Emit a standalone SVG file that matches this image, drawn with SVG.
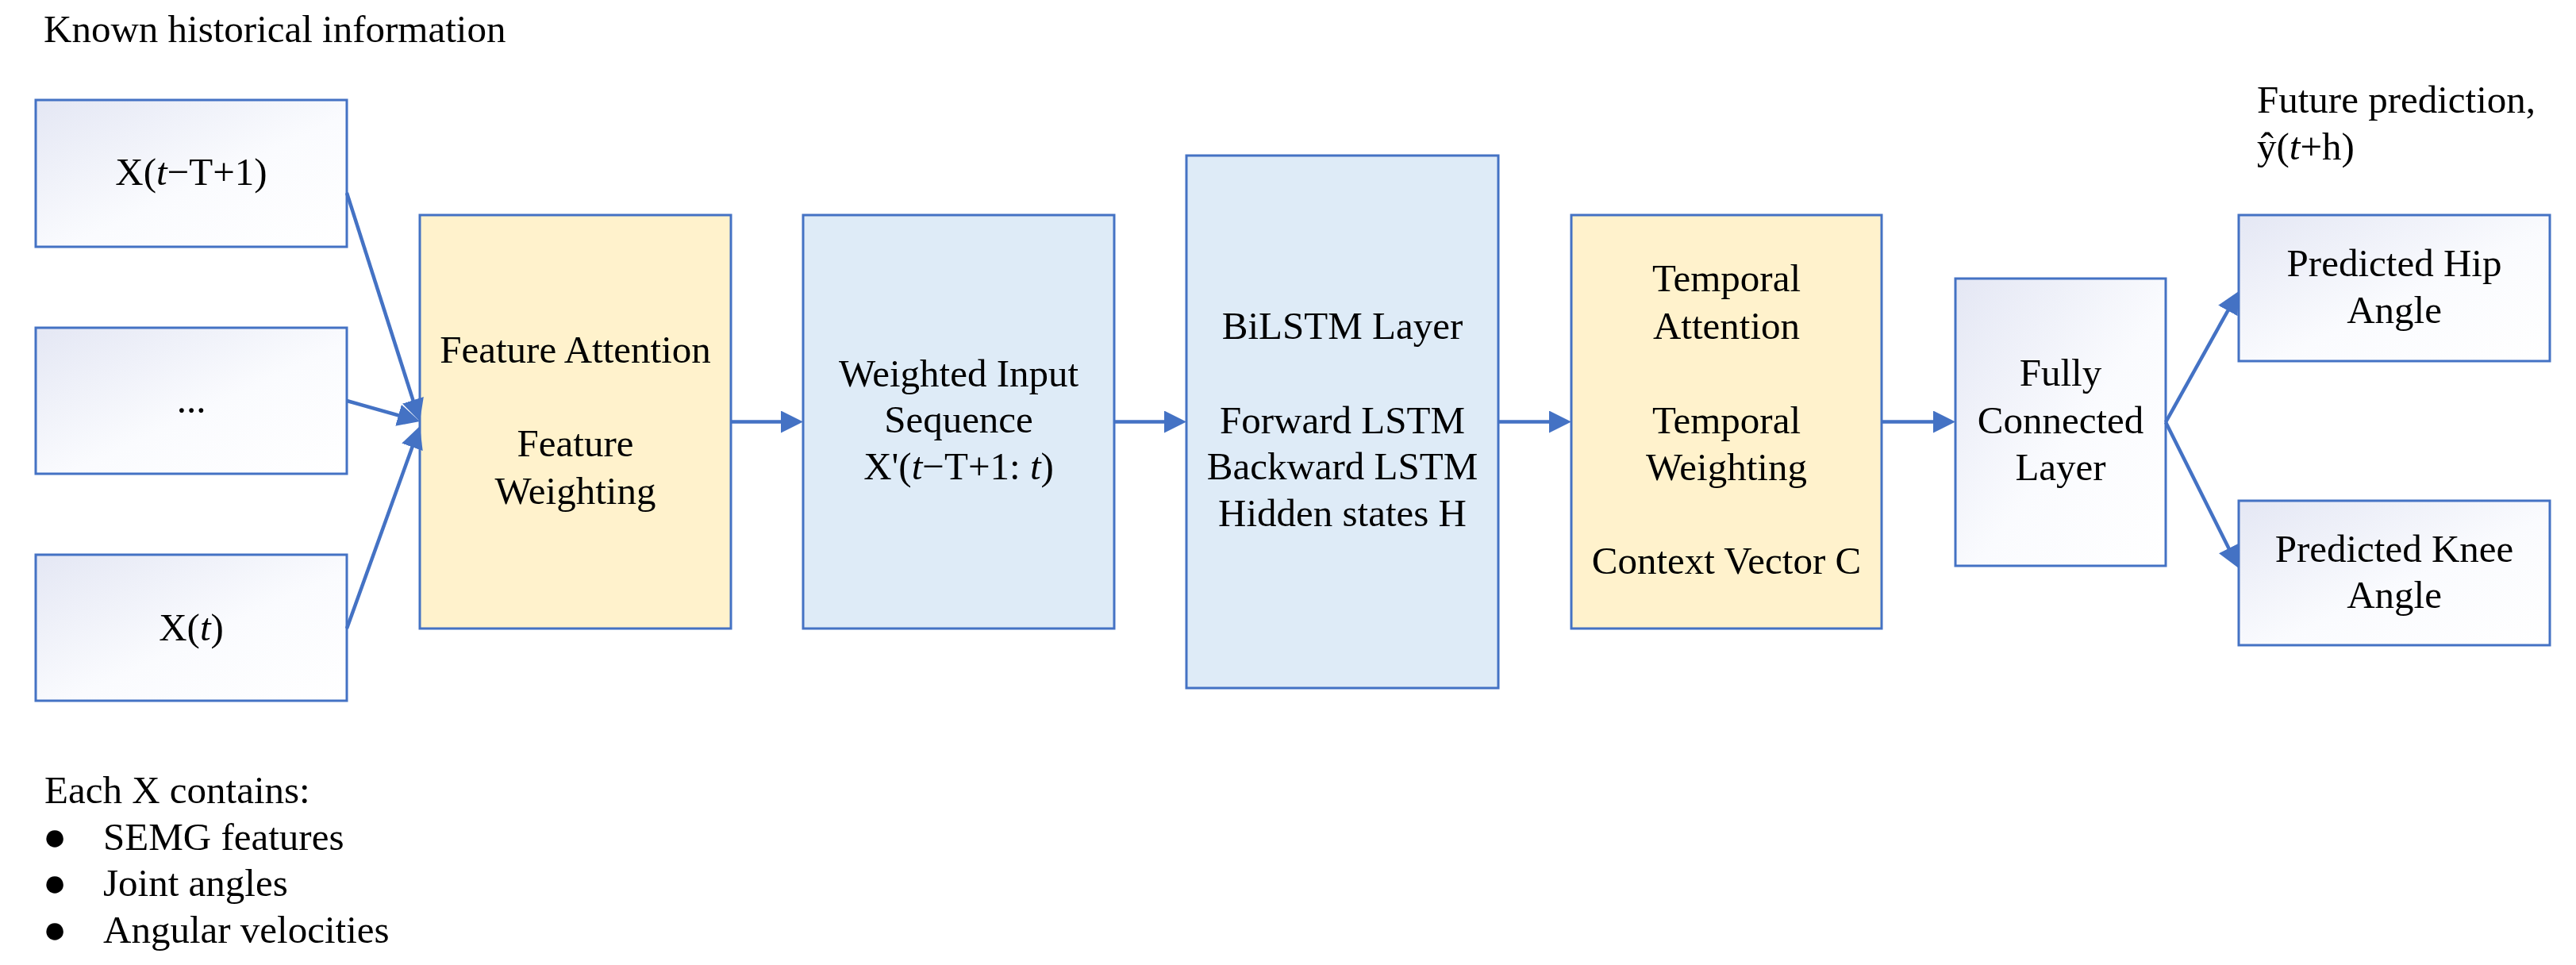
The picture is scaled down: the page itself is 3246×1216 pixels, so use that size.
<svg xmlns="http://www.w3.org/2000/svg" width="3246" height="1216" viewBox="0 0 3246 1216">
<style>
text{font-family:"Liberation Serif","Times New Roman",serif;font-size:49px;fill:#000}
.c{text-anchor:middle}
.bul{font-size:50px}
.box{stroke:#4472C4;stroke-width:3}
.grad{fill:url(#g)}
.yel{fill:#FFF2CC}
.blu{fill:#DEEBF7}
.conn line{stroke:#4472C4;stroke-width:4.5;fill:none}
</style>
<defs>
<linearGradient id="g" x1="0" y1="0" x2="1" y2="1">
<stop offset="0" stop-color="#E4E7F4"/>
<stop offset="0.55" stop-color="#FAFBFE"/>
<stop offset="1" stop-color="#FFFFFF"/>
</linearGradient>
<marker id="arr" markerUnits="userSpaceOnUse" markerWidth="28" markerHeight="28" viewBox="0 0 28 28" refX="16" refY="14" orient="auto">
<path d="M0,0 L28,14 L0,28 z" fill="#4472C4"/>
</marker>
</defs>
<rect width="3246" height="1216" fill="#fff"/>
<text x="55" y="53">Known historical information</text>
<g id="x1"><rect class="box grad" x="45" y="126" width="392" height="185"/><text class="c" x="241" y="233">X(<tspan font-style="italic">t</tspan>−T+1)</text></g>
<g id="xdots"><rect class="box grad" x="45" y="413" width="392" height="184"/><text class="c" x="241" y="520">...</text></g>
<g id="xt"><rect class="box grad" x="45" y="699" width="392" height="184"/><text class="c" x="241" y="807">X(<tspan font-style="italic">t</tspan>)</text></g>
<g id="feature"><rect class="box yel" x="529" y="271" width="392" height="521"/><text class="c" x="725" y="457">Feature Attention</text><text class="c" x="725" y="575">Feature</text><text class="c" x="725" y="635">Weighting</text></g>
<g id="weighted"><rect class="box blu" x="1012" y="271" width="392" height="521"/><text class="c" x="1208" y="487">Weighted Input</text><text class="c" x="1208" y="545">Sequence</text><text class="c" x="1208" y="604">X'(<tspan font-style="italic">t</tspan>−T+1: <tspan font-style="italic">t</tspan>)</text></g>
<g id="bilstm"><rect class="box blu" x="1495" y="196" width="393" height="671"/><text class="c" x="1691.5" y="427">BiLSTM Layer</text><text class="c" x="1691.5" y="546">Forward LSTM</text><text class="c" x="1691.5" y="604">Backward LSTM</text><text class="c" x="1691.5" y="663">Hidden states H</text></g>
<g id="temporal"><rect class="box yel" x="1980" y="271" width="391" height="521"/><text class="c" x="2175.5" y="367">Temporal</text><text class="c" x="2175.5" y="427">Attention</text><text class="c" x="2175.5" y="546">Temporal</text><text class="c" x="2175.5" y="605">Weighting</text><text class="c" x="2175.5" y="723">Context Vector C</text></g>
<g id="fc"><rect class="box grad" x="2464" y="351" width="265" height="362"/><text class="c" x="2596.5" y="486">Fully</text><text class="c" x="2596.5" y="546">Connected</text><text class="c" x="2596.5" y="605">Layer</text></g>
<text x="2844" y="142">Future prediction,</text>
<text x="2844" y="201">ŷ(<tspan font-style="italic">t</tspan>+h)</text>
<g id="hip"><rect class="box grad" x="2821" y="271" width="392" height="184"/><text class="c" x="3017" y="348">Predicted Hip</text><text class="c" x="3017" y="407">Angle</text></g>
<g id="knee"><rect class="box grad" x="2821" y="631" width="392" height="182"/><text class="c" x="3017" y="708">Predicted Knee</text><text class="c" x="3017" y="766">Angle</text></g>
<g id="connectors" class="conn">
<line x1="437" y1="243" x2="525.35" y2="519.57" marker-end="url(#arr)"/>
<line x1="437" y1="505" x2="517.45" y2="527.74" marker-end="url(#arr)"/>
<line x1="437" y1="792" x2="524.93" y2="548.29" marker-end="url(#arr)"/>
<line x1="921" y1="531.5" x2="1000" y2="531.5" marker-end="url(#arr)"/>
<line x1="1404" y1="531.5" x2="1483" y2="531.5" marker-end="url(#arr)"/>
<line x1="1888" y1="531.5" x2="1968" y2="531.5" marker-end="url(#arr)"/>
<line x1="2371" y1="531.5" x2="2452" y2="531.5" marker-end="url(#arr)"/>
<line x1="2729" y1="532" x2="2815.16" y2="377.48" marker-end="url(#arr)"/>
<line x1="2729" y1="532" x2="2815.63" y2="705.27" marker-end="url(#arr)"/>
</g>
<text x="56" y="1012">Each X contains:</text>
<text y="1071"><tspan class="bul" x="54">●</tspan><tspan x="130">SEMG features</tspan></text>
<text y="1129"><tspan class="bul" x="54">●</tspan><tspan x="130">Joint angles</tspan></text>
<text y="1188"><tspan class="bul" x="54">●</tspan><tspan x="130">Angular velocities</tspan></text>
</svg>
